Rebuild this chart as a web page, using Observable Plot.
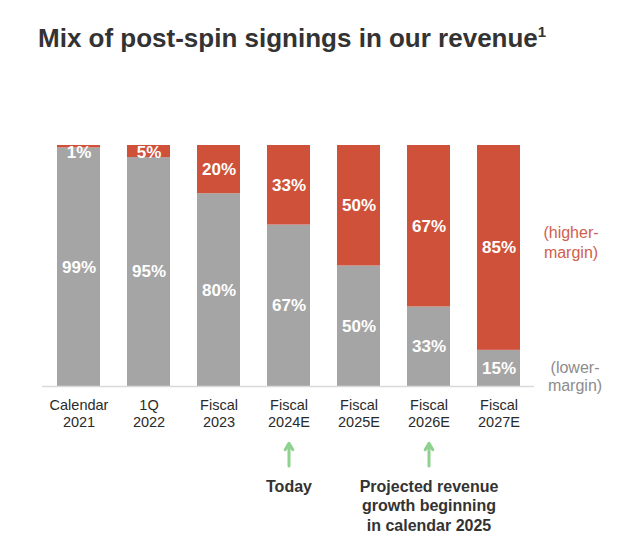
<!DOCTYPE html>
<html>
<head>
<meta charset="utf-8">
<script src="https://cdn.jsdelivr.net/npm/d3@7"></script>
<script src="https://cdn.jsdelivr.net/npm/@observablehq/plot@0.6"></script>
<style>
  html, body { margin: 0; padding: 0; background: #fff; }
  body { width: 640px; height: 548px; overflow: hidden; font-family: "Liberation Sans", Arial, sans-serif; }
  #title { height: 45px; padding: 25px 0 0 38px; font-size: 26px; line-height: 26px; font-weight: bold; color: #333; white-space: nowrap; }
  #title sup { font-size: 15px; line-height: 0; vertical-align: 10px; }
  #chart svg { display: block; }
</style>
</head>
<body>
<div id="title">Mix of post-spin signings in our revenue<sup>1</sup></div>
<div id="chart"></div>
<script>
const categories = ["Calendar\n2021", "1Q\n2022", "Fiscal\n2023", "Fiscal\n2024E", "Fiscal\n2025E", "Fiscal\n2026E", "Fiscal\n2027E"];
const lowerMargin = [99, 95, 80, 67, 50, 33, 15];
const higherMargin = [1, 5, 20, 33, 50, 67, 85];
const seriesNames = ["lower", "higher"];
const seriesLabels = ["(lower-\nmargin)", "(higher-\nmargin)"];
const annotations = [
  {cat: "Fiscal\n2024E", note: "Today"},
  {cat: "Fiscal\n2026E", note: "Projected revenue\ngrowth beginning\nin calendar 2025"}
];

const RED = "#d0513a", GRAY = "#a5a5a5";

const data = categories.flatMap((c, i) => [
  {cat: c, series: "lower", value: lowerMargin[i], total: lowerMargin[i] + higherMargin[i]},
  {cat: c, series: "higher", value: higherMargin[i], total: lowerMargin[i] + higherMargin[i]}
]);
const last = categories[categories.length - 1];
const lastData = data.filter(d => d.cat === last);

const chart = Plot.plot({
  width: 640,
  height: 478,
  marginTop: 75,
  marginBottom: 162,
  marginLeft: 42,
  marginRight: 106,
  style: {fontFamily: "'Liberation Sans', Arial, sans-serif", background: "#fff"},
  x: {domain: categories, paddingInner: 0.39, paddingOuter: 0.195, label: null},
  y: {domain: [0, 100], axis: null},
  color: {domain: seriesNames, range: [GRAY, RED]},
  marks: [
    Plot.barY(data, {x: "cat", y: "value", fill: "series"}),
    Plot.ruleY([0], {stroke: "#d9d9d9", strokeWidth: 1.5}),
    Plot.axisX({tickSize: 0, tickPadding: 12, fontSize: 14.5, lineHeight: 1.16, fill: "#2a2a2a", label: null}),
    // labels centered in segments
    Plot.text(data, Plot.stackY({
      x: "cat", y: "value", z: "series",
      text: d => d.value >= 10 ? d.value + "%" : "",
      fill: "white", fontSize: 17, fontWeight: "bold"
    })),
    // labels for very thin top segments
    Plot.text(data.filter(d => d.series === "higher" && d.value < 10), {
      x: "cat", y: "total", text: d => d.value + "%",
      lineAnchor: "top", dy: 0, fill: "white", fontSize: 17, fontWeight: "bold"
    }),
    // series side labels
    Plot.text(lastData, Plot.stackY({
      x: "cat", y: "value", z: "series",
      text: d => d.series === "higher" ? seriesLabels[1] : "",
      dx: 72, dy: -6, fill: "#d0604c", fontSize: 16, lineHeight: 1.2
    })),
    Plot.text(lastData, Plot.stackY({
      x: "cat", y: "value", z: "series",
      text: d => d.series === "lower" ? seriesLabels[0] : "",
      dx: 76, dy: 8, fill: "#8c8c8c", fontSize: 16, lineHeight: 1.1
    })),
    // annotation arrows
    Plot.arrow(annotations, {
      x1: "cat", x2: "cat", y1: -33, y2: -23.5,
      stroke: "#8fd18f", strokeWidth: 3, headLength: 9, bend: 0
    }),
    Plot.text(annotations, {
      x: "cat", y: 0, text: "note", lineAnchor: "top", dy: 92,
      fill: "#333", fontSize: 16, fontWeight: "bold", lineHeight: 1.2
    })
  ]
});
document.getElementById("chart").appendChild(chart);
</script>
</body>
</html>
